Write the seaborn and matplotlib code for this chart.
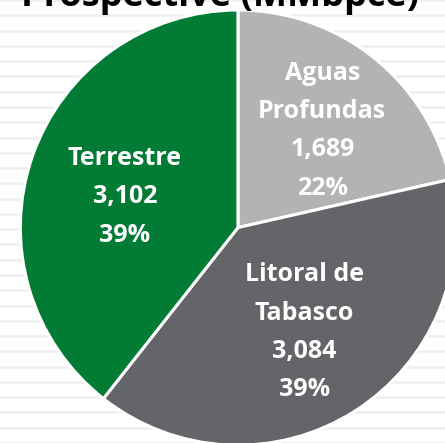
import numpy as np
import seaborn as sns
import matplotlib.pyplot as plt
from matplotlib.transforms import offset_copy

# Recursos prospectivos por cuenca (MMbpce)
cuencas = ["Aguas\nProfundas", "Litoral de\nTabasco", "Terrestre"]
valores = [1689, 3084, 3102]
valores_txt = ["1,689", "3,084", "3,102"]
porcentajes = ["22%", "39%", "39%"]
colores = ["#b3b3b3", "#636569", "#027b35"]

# pequeños ajustes de posición de las etiquetas (en puntos)
ajustes = [(5, 0), (0, 0), (3, -7)]

sns.set_theme(style="white")
plt.rcParams['font.family'] = ['Open Sans', 'DejaVu Sans']

fig = plt.figure(figsize=(4.45, 4.43), dpi=100)
ax = fig.add_axes([0, 0, 1, 1])

wedges, texts, autotexts = ax.pie(
    valores,
    colors=colores,
    startangle=90,
    counterclock=False,
    radius=1.0,
    pctdistance=0.57,
    autopct=lambda p: "",
    wedgeprops=dict(edgecolor="white", linewidth=2.2),
)

for t, nombre, v, p, (dx, dy) in zip(autotexts, cuencas, valores_txt, porcentajes, ajustes):
    t.set_text(f"{nombre}\n{v}\n{p}")
    t.set_color("white")
    t.set_fontsize(18)
    t.set_fontweight("bold")
    t.set_linespacing(1.7)
    t.set_ha("center")
    t.set_va("center")
    t.set_transform(offset_copy(ax.transData, fig=fig, x=dx, y=dy, units="points"))

# fondo rayado
ax.set_xlim(-1.092, 0.950)
ax.set_ylim(-0.986, 1.046)
ax.set_aspect("equal")
ax.set_yticks(np.arange(-0.99, 1.05, 0.0702))
ax.yaxis.grid(True, color="#f0f0f0", linewidth=2.0, zorder=0)
ax.set_axisbelow(True)
ax.tick_params(left=False, bottom=False, labelleft=False, labelbottom=False)
for s in ax.spines.values():
    s.set_visible(False)

fig.text(0.495, 1 - 6 / 443, "Prospective (MMbpce)", ha="center", va="baseline",
         fontsize=26, fontweight="bold", color="black")

fig.savefig("out.png", dpi=100)
